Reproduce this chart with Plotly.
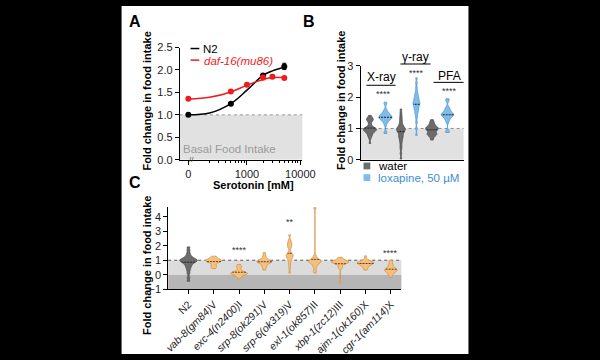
import plotly.graph_objects as go

W, H = 600, 360
def px(x): return x / W
def py(y): return 1 - y / H

FONT = "Liberation Sans, Arial, sans-serif"
GRAY = "#6c6c6c"; GRAY_LINE = "#4a4a4a"
BLUE = "#7fbce8"; BLUE_LINE = "#4f97d2"; BLUE_TEXT = "#3b8ed6"
ORANGE = "#f6bf7c"; ORANGE_LINE = "#cf9446"
BAND = "#e1e1e1"; BAND_DARK = "#b6b6b6"

# ---------------- Panel A data ----------------
serotonin = [0, 500, 1000, 2000, 3000, 5000]
n2_dose = [0, 500, 2000, 5000]
n2_mean = [1.00, 1.25, 1.88, 2.08]
n2_err = [0.02, 0.03, 0.03, 0.07]
daf16_mean = [1.36, 1.52, 1.67, 1.83, 1.85, 1.82]
daf16_err = [0.02, 0.02, 0.02, 0.05, 0.04, 0.03]
fit_dose = [0, 200, 500, 1000, 2000, 3000, 5000]
n2_fit = [1.00, 1.04, 1.25, 1.55, 1.88, 1.98, 2.06]
daf16_fit = [1.35, 1.39, 1.51, 1.66, 1.79, 1.83, 1.84]
ZERO_POS = 80  # where dose 0 is drawn on the broken log axis
a_xticks = [0, 1000, 10000]
a_yticks = [0.0, 0.5, 1.0, 1.5, 2.0, 2.5]

def dose_pos(d):
    return [ZERO_POS if v == 0 else v for v in d]

# ---------------- Panel B data ----------------
b_groups = ["X-ray", "γ-ray", "PFA"]
water_xray = [0.52, 0.68, 0.75, 0.78, 0.82, 0.86, 0.88, 0.9, 0.92, 0.94, 0.95, 0.96, 0.97,
              0.98, 0.99, 1.0, 1.02, 1.04, 1.08, 1.15, 1.22, 1.26, 1.28, 1.3, 1.32, 1.35, 1.42]
lox_xray = [0.84, 0.88, 1.1, 1.18, 1.22, 1.25, 1.28, 1.3, 1.32, 1.33, 1.34, 1.35, 1.36, 1.38,
            1.4, 1.42, 1.44, 1.45, 1.47, 1.5, 1.55, 1.6, 1.78, 1.84]
water_gamma = [0.02, 0.2, 0.35, 0.45, 0.55, 0.62, 0.68, 0.72, 0.76, 0.8, 0.84, 0.88, 0.9, 0.93,
               0.95, 0.97, 0.98, 1.0, 1.02, 1.05, 1.08, 1.12, 1.18, 1.25, 1.32, 1.4, 1.5, 1.62]
lox_gamma = [0.78, 1.0, 1.2, 1.35, 1.45, 1.52, 1.58, 1.62, 1.66, 1.7, 1.74, 1.77, 1.8, 1.82,
             1.85, 1.88, 1.92, 1.96, 2.0, 2.05, 2.1, 2.18, 2.3, 2.45, 2.62]
water_pfa = [0.63, 0.72, 0.78, 0.8, 0.82, 0.84, 0.86, 0.92, 0.95, 0.97, 0.99, 1.0, 1.02, 1.04,
             1.06, 1.1, 1.15, 1.2, 1.28]
lox_pfa = [0.87, 0.92, 1.2, 1.28, 1.33, 1.37, 1.4, 1.42, 1.44, 1.45, 1.47, 1.5, 1.53, 1.57,
           1.62, 1.68, 1.88, 1.95]
b_stars = ["****", "****", "****"]

# ---------------- Panel C data ----------------
strains = ["N2", "vab-8(gm84)V", "exc-4(n2400)I", "srp-8(ok291)V", "srp-6(ok319)V",
           "exl-1(ok857)II", "xbp-1(zc12)III", "ajm-1(ok160)X", "cgr-1(am114)X"]
strain_labels = ["N2", "<i>vab-8(gm84)</i>V", "<i>exc-4(n2400)</i>I", "<i>srp-8(ok291)</i>V",
                 "<i>srp-6(ok319)</i>V", "<i>exl-1(ok857)</i>II", "<i>xbp-1(zc12)</i>III",
                 "<i>ajm-1(ok160)</i>X", "<i>cgr-1(am114)</i>X"]
c_n2 = [-0.45, -0.2, 0.1, 0.3, 0.45, 0.55, 0.65, 0.72, 0.78, 0.84, 0.88, 0.92, 0.95, 0.98,
        1.0, 1.02, 1.05, 1.08, 1.12, 1.18, 1.25, 1.35, 1.5, 1.7, 1.92]
c_vab8 = [0.42, 0.55, 0.6, 0.75, 0.85, 0.9, 0.93, 0.95, 0.97, 1.0, 1.02, 1.05, 1.12, 1.2, 1.28]
c_exc4 = [-0.28, -0.1, 0.0, 0.03, 0.06, 0.08, 0.1, 0.12, 0.15, 0.2, 0.3, 0.48, 0.58, 0.7]
c_srp8 = [0.32, 0.5, 0.62, 0.72, 0.8, 0.85, 0.88, 0.9, 0.92, 0.95, 0.98, 1.05, 1.15, 1.3, 1.52]
c_srp6 = [0.12, 0.45, 0.7, 0.9, 1.05, 1.15, 1.22, 1.28, 1.33, 1.38, 1.45, 1.6, 1.85, 1.95,
          2.05, 2.15, 2.25, 2.4, 2.75]
c_exl1 = [0.12, 0.3, 0.5, 0.65, 0.75, 0.82, 0.86, 0.9, 0.93, 0.96, 1.0, 1.05, 1.15, 1.3, 4.62]
c_xbp1 = [-0.58, 0.45, 0.55, 0.7, 0.78, 0.82, 0.85, 0.87, 0.88, 0.9, 0.92, 0.95, 1.0, 1.1, 1.2]
c_ajm1 = [0.32, 0.45, 0.55, 0.62, 0.68, 0.72, 0.75, 0.78, 0.8, 0.83, 0.86, 0.88, 0.9, 0.92,
          1.05, 1.3]
c_cgr1 = [-0.18, 0.0, 0.1, 0.18, 0.22, 0.26, 0.3, 0.33, 0.36, 0.4, 0.45, 0.52, 0.6, 0.7,
          0.85, 1.0]
c_mutants = [c_vab8, c_exc4, c_srp8, c_srp6, c_exl1, c_xbp1, c_ajm1, c_cgr1]
c_sig_strain = ["exc-4(n2400)I", "srp-6(ok319)V", "cgr-1(am114)X"]
c_sig_text = ["****", "**", "****"]
c_sig_y = [1.73, 3.67, 1.53]

fig = go.Figure()

# ---- Panel A traces ----
fig.add_trace(go.Scatter(x=dose_pos(fit_dose), y=n2_fit, mode="lines", line=dict(color="black", width=1.5, shape="spline"),
                         xaxis="x", yaxis="y", showlegend=False, hoverinfo="skip"))
fig.add_trace(go.Scatter(x=dose_pos(n2_dose), y=n2_mean, mode="markers",
                         marker=dict(color="black", size=6),
                         error_y=dict(type="data", array=n2_err, color="black", thickness=1, width=2),
                         xaxis="x", yaxis="y", showlegend=False, hoverinfo="skip"))
fig.add_trace(go.Scatter(x=dose_pos(fit_dose), y=daf16_fit, mode="lines", line=dict(color="#ee1c1c", width=1.5, shape="spline"),
                         xaxis="x", yaxis="y", showlegend=False, hoverinfo="skip"))
fig.add_trace(go.Scatter(x=dose_pos(serotonin), y=daf16_mean, mode="markers",
                         marker=dict(color="#ee1c1c", size=6),
                         error_y=dict(type="data", array=daf16_err, color="#ee1c1c", thickness=1, width=2),
                         xaxis="x", yaxis="y", showlegend=False, hoverinfo="skip"))

# ---- Panel B traces ----
def stack(groups, lists):
    xs, ys = [], []
    for g, vals in zip(groups, lists):
        xs += [g] * len(vals)
        ys += vals
    return xs, ys

vcommon = dict(spanmode="hard", scalemode="width", points=False, box_visible=False,
               hoverinfo="skip", showlegend=False)
wx, wy = stack(b_groups, [water_xray, water_gamma, water_pfa])
lx, ly = stack(b_groups, [lox_xray, lox_gamma, lox_pfa])
fig.add_trace(go.Violin(x=wx, y=wy, xaxis="x2", yaxis="y2", name="water", fillcolor=GRAY,
                        line=dict(color=GRAY_LINE, width=0.8), bandwidth=0.05,
                        meanline=dict(visible=True, color="#222", width=1),
                        offsetgroup="water", alignmentgroup="B", opacity=1, **vcommon))
fig.add_trace(go.Violin(x=lx, y=ly, xaxis="x2", yaxis="y2", name="loxapine, 50 µM", fillcolor=BLUE,
                        line=dict(color=BLUE_LINE, width=0.8), bandwidth=0.05,
                        meanline=dict(visible=True, color="#222", width=1),
                        offsetgroup="lox", alignmentgroup="B", opacity=1, **vcommon))

# ---- Panel C traces ----
mx, my = stack(strains[1:], c_mutants)
fig.add_trace(go.Violin(x=[strains[0]] * len(c_n2), y=c_n2, xaxis="x3", yaxis="y3", fillcolor=GRAY,
                        line=dict(color=GRAY_LINE, width=0.8), bandwidth=0.09, width=0.7,
                        meanline=dict(visible=True, color="#222", width=1),
                        offsetgroup="C", alignmentgroup="C", opacity=1, **vcommon))
fig.add_trace(go.Violin(x=mx, y=my, xaxis="x3", yaxis="y3", fillcolor=ORANGE,
                        line=dict(color=ORANGE_LINE, width=0.8), bandwidth=0.09, width=0.7,
                        meanline=dict(visible=True, color="#5a4020", width=1),
                        offsetgroup="C", alignmentgroup="C", opacity=1, **vcommon))

axcommon = dict(showline=True, linecolor="black", linewidth=1, showgrid=False, zeroline=False,
                ticks="outside", ticklen=4, tickcolor="black", tickfont=dict(size=11, color="#222"))

shapes = [
    dict(type="rect", xref="paper", yref="paper", x0=px(121), x1=px(478), y0=0, y1=1,
         fillcolor="white", line=dict(width=0), layer="below"),
    # A band + dotted line
    dict(type="rect", xref="x domain", yref="y", x0=0, x1=1, y0=0, y1=1, fillcolor=BAND,
         line=dict(width=0), layer="below"),
    dict(type="line", xref="x domain", yref="y", x0=0, x1=1, y0=1, y1=1,
         line=dict(color="#999", width=1, dash="dot"), layer="below"),
    # B band
    dict(type="rect", xref="x2 domain", yref="y2", x0=0, x1=1, y0=0, y1=1, fillcolor=BAND,
         line=dict(width=0), layer="below"),
    dict(type="line", xref="x2 domain", yref="y2", x0=0, x1=1, y0=1, y1=1,
         line=dict(color="#888", width=1, dash="dot"), layer="below"),
    # C bands
    dict(type="rect", xref="x3 domain", yref="y3", x0=0, x1=1, y0=0, y1=1, fillcolor="#dcdcdc",
         line=dict(width=0), layer="below"),
    dict(type="rect", xref="x3 domain", yref="y3", x0=0, x1=1, y0=-1, y1=0, fillcolor=BAND_DARK,
         line=dict(width=0), layer="below"),
    dict(type="line", xref="x3 domain", yref="y3", x0=0, x1=1, y0=1, y1=1,
         line=dict(color="#555", width=1, dash="dot"), layer="below"),
    # A legend glyphs
    dict(type="line", xref="paper", yref="paper", x0=px(192), x1=px(201), y0=py(44), y1=py(44),
         line=dict(color="black", width=1.5)),
    dict(type="line", xref="paper", yref="paper", x0=px(192), x1=px(201), y0=py(56), y1=py(56),
         line=dict(color="#ee1c1c", width=1.5)),
    # B group brackets
    dict(type="line", xref="paper", yref="paper", x0=px(373), x1=px(403), y0=py(82), y1=py(82),
         line=dict(color="black", width=1)),
    dict(type="line", xref="paper", yref="paper", x0=px(408), x1=px(439), y0=py(60), y1=py(60),
         line=dict(color="black", width=1)),
    dict(type="line", xref="paper", yref="paper", x0=px(442), x1=px(473), y0=py(79), y1=py(79),
         line=dict(color="black", width=1)),
    # B legend squares
    dict(type="rect", xref="paper", yref="paper", x0=px(370), x1=px(377), y0=py(169), y1=py(162),
         fillcolor=GRAY, line=dict(width=0)),
    dict(type="rect", xref="paper", yref="paper", x0=px(370), x1=px(377), y0=py(181), y1=py(174),
         fillcolor=BLUE, line=dict(width=0)),
]

def ann(text, x, y, size=11, color="black", bold=False, xanchor="center", angle=0):
    t = f"<b>{text}</b>" if bold else text
    return dict(text=t, x=px(x), y=py(y), xref="paper", yref="paper", showarrow=False,
                xanchor=xanchor, yanchor="middle", textangle=angle,
                font=dict(size=size, color=color, family=FONT))

annotations = [
    ann("A", 135, 16, size=16, bold=True),
    ann("B", 314, 16, size=16, bold=True),
    ann("C", 135, 183, size=16, bold=True),
    ann("Fold change in food intake", 147, 98, size=11, bold=True, angle=-90),
    ann("Fold change in food intake", 347, 98, size=11, bold=True, angle=-90),
    ann("Fold change in food intake", 147, 268, size=11, bold=True, angle=-90),
    ann("Serotonin [mM]", 257, 185, size=11, bold=True),
    ann("N2", 203, 44, size=11.5, xanchor="left"),
    ann("<i>daf-16(mu86)</i>", 204, 57, size=11.5, color="#ee1c1c", xanchor="left"),
    ann("Basal Food Intake", 232, 148, size=11.5, color="#9a9a9a"),
    ann("//", 193, 159, size=8, color="#555"),
    ann("X-ray", 388, 73, size=12),
    ann("γ-ray", 423, 53, size=12),
    ann("PFA", 458, 72, size=12),
    ann("water", 383, 166, size=11.5, xanchor="left"),
    ann("loxapine, 50 µM", 383, 178, size=11.5, color=BLUE_TEXT, xanchor="left"),
]
b_star_px = [(391, 91), (425, 69), (458, 88)]
for (sx, sy), s in zip(b_star_px, b_stars):
    annotations.append(ann(s, sx, sy, size=9, color="#333"))
for st, txt, yv in zip(c_sig_strain, c_sig_text, c_sig_y):
    annotations.append(dict(text=txt, x=st, y=yv, xref="x3", yref="y3", showarrow=False,
                            font=dict(size=9, color="#333", family=FONT)))

fig.update_layout(
    width=W, height=H, margin=dict(l=0, r=0, t=0, b=0), autosize=False,
    paper_bgcolor="black", plot_bgcolor="rgba(0,0,0,0)",
    font=dict(family=FONT, color="#222"),
    showlegend=False, violinmode="group", violingap=0, violingroupgap=0.15,
    xaxis=dict(domain=[px(181), px(307)], anchor="y", type="log", range=[1.745, 4.036],
               tickvals=[ZERO_POS if t == 0 else t for t in a_xticks], ticktext=[str(t) for t in a_xticks],
               minor=dict(tickvals=[200, 300, 400, 500, 600, 700, 800, 900, 2000, 3000, 4000, 5000,
                                    6000, 7000, 8000, 9000], ticks="outside", ticklen=2, tickcolor="black"),
               **axcommon),
    yaxis=dict(domain=[py(159), py(43)], anchor="x", range=[0, 2.5], tickvals=a_yticks,
               ticktext=[f"{v:.1f}" for v in a_yticks], **axcommon),
    xaxis2=dict(domain=[px(367), px(473)], anchor="y2", type="category", categoryorder="array",
                categoryarray=b_groups, range=[-0.55, 2.77], showticklabels=False,
                **{**axcommon, "ticks": ""}),
    yaxis2=dict(domain=[py(159), py(62)], anchor="x2", range=[0, 3], tickvals=[0, 1, 2, 3], **axcommon),
    xaxis3=dict(domain=[px(169), px(409)], anchor="y3", type="category", categoryorder="array",
                categoryarray=strains, range=[-0.8, 8.42], tickvals=strains, ticktext=strain_labels,
                tickangle=-45, **{**axcommon, "tickfont": dict(size=10.5, color="#222")}),
    yaxis3=dict(domain=[py(293), py(207.5)], anchor="x3", range=[-1, 4.7], tickvals=[-1, 0, 1, 2, 3, 4],
                **axcommon),
    shapes=shapes, annotations=annotations,
)

fig.write_html("out.html", config={"displayModeBar": False},
               post_script="document.body.style.margin='0';document.body.style.overflow='hidden';")
